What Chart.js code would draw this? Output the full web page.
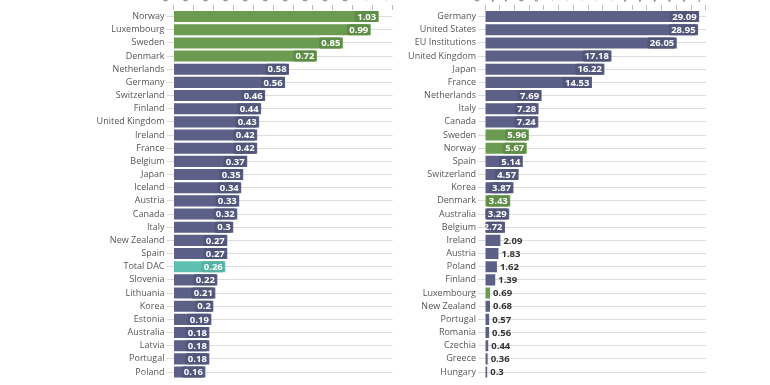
<!DOCTYPE html>
<html>
<head>
<meta charset="utf-8">
<script src="https://cdn.jsdelivr.net/npm/chart.js@4.4.1/dist/chart.umd.min.js"></script>
<style>
  html, body { margin: 0; padding: 0; background: #fff; overflow: hidden; }
  body { width: 770px; height: 385px; position: relative; }
  .box { position: absolute; }
  #boxGni { left: 0; top: -30px; width: 400px; height: 416px; }
  #boxUsd { left: 400px; top: -30px; width: 312px; height: 416px; }
</style>
</head>
<body>
<div class="box" id="boxGni"><canvas id="chartGni"></canvas></div>
<div class="box" id="boxUsd"><canvas id="chartUsd"></canvas></div>
<script>
// left: ODA as % of GNI
const paisesGni = [
    "Norway", "Luxembourg", "Sweden", "Denmark", "Netherlands", "Germany", "Switzerland",
    "Finland", "United Kingdom", "Ireland", "France", "Belgium", "Japan", "Iceland",
    "Austria", "Canada", "Italy", "New Zealand", "Spain", "Total DAC", "Slovenia",
    "Lithuania", "Korea", "Estonia", "Australia", "Latvia", "Portugal", "Poland"
];
const valoresGni = [
    1.03, 0.99, 0.85, 0.72, 0.58, 0.56, 0.46, 0.44, 0.43, 0.42, 0.42, 0.37, 0.35, 0.34,
    0.33, 0.32, 0.3, 0.27, 0.27, 0.26, 0.22, 0.21, 0.2, 0.19, 0.18, 0.18, 0.18, 0.16
];

// right: ODA in USD billion
const paisesUsd = [
    "Germany", "United States", "EU Institutions", "United Kingdom", "Japan", "France",
    "Netherlands", "Italy", "Canada", "Sweden", "Norway", "Spain", "Switzerland", "Korea",
    "Denmark", "Australia", "Belgium", "Ireland", "Austria", "Poland", "Finland",
    "Luxembourg", "New Zealand", "Portugal", "Romania", "Czechia", "Greece", "Hungary"
];
const valoresUsd = [
    29.09, 28.95, 26.05, 17.18, 16.22, 14.53, 7.69, 7.28, 7.24, 5.96, 5.67, 5.14, 4.57, 3.87,
    3.43, 3.29, 2.72, 2.09, 1.83, 1.62, 1.39, 0.69, 0.68, 0.57, 0.56, 0.44, 0.36, 0.3
];

const ticksGni = { min: 0, max: 1.1, step: 0.1 };
const ticksUsd = { min: 0, max: 30, step: 2 };

const nordicos = ["Norway", "Luxembourg", "Sweden", "Denmark"];
const corVerde = '#6b9b50', corVerdeEsc = '#5e8d46';
const corAzul = '#5c6086', corAzulEsc = '#52567b';
const corTeal = '#5fc0b1', corTealEsc = '#54b3a4';

const corBarra = nome => nome === 'Total DAC' ? corTeal : (nordicos.includes(nome) ? corVerde : corAzul);
const corCaixa = nome => nome === 'Total DAC' ? corTealEsc : (nordicos.includes(nome) ? corVerdeEsc : corAzulEsc);

// value labels, drawn by hand (no datalabels plugin offline)
const rotulos = {
    id: 'rotulos',
    afterDatasetsDraw(chart) {
        const ctx = chart.ctx;
        const meta = chart.getDatasetMeta(0);
        const nomes = chart.data.labels;
        const dados = chart.data.datasets[0].data;
        ctx.save();
        ctx.font = 'bold 9.5px "Open Sans"';
        ctx.textBaseline = 'middle';
        meta.data.forEach((bar, i) => {
            const txt = String(dados[i]);
            const w = ctx.measureText(txt).width;
            const largura = bar.x - bar.base;
            if (largura >= 18) {
                const x1 = Math.max(bar.x - w - 5, bar.base);
                ctx.fillStyle = corCaixa(nomes[i]);
                ctx.beginPath();
                ctx.roundRect(x1, bar.y - 5.5, bar.x - 1 - x1, 11, 2);
                ctx.fill();
                ctx.fillStyle = '#fff';
                ctx.textAlign = 'right';
                ctx.fillText(txt, bar.x - 2.5, bar.y + 0.5);
            } else {
                ctx.fillStyle = '#333';
                ctx.textAlign = 'left';
                ctx.fillText(txt, bar.x + 3, bar.y + 0.5);
            }
        });
        ctx.restore();
    }
};

function montaGrafico(id, nomes, valores, escala, larguraEixo) {
    return new Chart(document.getElementById(id), {
        type: 'bar',
        data: {
            labels: nomes,
            datasets: [{
                data: valores,
                backgroundColor: nomes.map(corBarra),
                barPercentage: 0.84,
                categoryPercentage: 1
            }]
        },
        options: {
            indexAxis: 'y',
            responsive: true, maintainAspectRatio: false, animation: false,
            layout: { padding: { top: 0, right: 2, bottom: 0, left: 0 } },
            plugins: { legend: { display: false }, tooltip: { enabled: false } },
            scales: {
                x: {
                    position: 'top', min: escala.min, max: escala.max,
                    afterFit: s => { s.height = 40; },
                    grid: { drawOnChartArea: false, tickLength: 5, color: '#bbb' },
                    border: { display: false },
                    ticks: { stepSize: escala.step, color: '#666', minRotation: 60, maxRotation: 60, padding: 1,
                             autoSkip: false, font: { family: 'Open Sans', size: 9 } }
                },
                y: {
                    afterFit: s => { s.width = larguraEixo; },
                    grid: { offset: false, color: '#dcdcdc', tickLength: 7 },
                    border: { display: false },
                    ticks: { color: '#555', padding: 2, autoSkip: false, font: { family: 'Open Sans', size: 9 } }
                }
            }
        },
        plugins: [rotulos]
    });
}

document.addEventListener('DOMContentLoaded', function() {
    montaGrafico('chartGni', paisesGni, valoresGni, ticksGni, 173.5);
    montaGrafico('chartUsd', paisesUsd, valoresUsd, ticksUsd, 85);
});
</script>
</body>
</html>
